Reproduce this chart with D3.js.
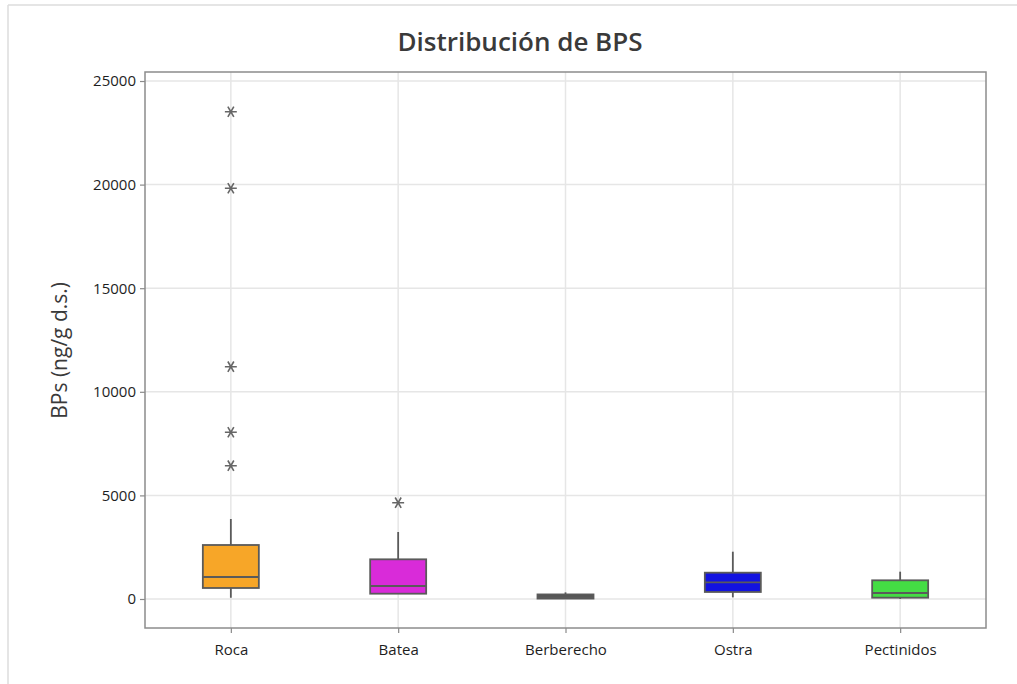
<!DOCTYPE html>
<html>
<head>
<meta charset="utf-8">
<script src="https://cdn.jsdelivr.net/npm/d3@7"></script>
<style>
  html, body { margin: 0; padding: 0; background: #fff; }
  svg { display: block; font-family: "Open Sans", "Noto Sans", sans-serif; }
</style>
</head>
<body>
<svg id="chart" width="1017" height="684"></svg>
<script>
// BPS concentration per sample type (ng/g d.s.)
const categories = ["Roca", "Batea", "Berberecho", "Ostra", "Pectinidos"];
const whiskerLow  = [60, 256, 0, 80, 0];
const q1Values    = [531, 256, 20, 338, 63];
const medians     = [1062, 627, 80, 806, 290];
const q3Values    = [2606, 1915, 220, 1270, 902];
const whiskerHigh = [3861, 3234, 320, 2283, 1318];
const outliers    = [
  [23518, 19822, 11212, 8045, 6434],
  [4648],
  [],
  [],
  []
];
const boxColors = ["#F7A628", "#D92BD9", "#555555", "#1212E0", "#44DD44"];
const yTicks = [0, 5000, 10000, 15000, 20000, 25000];

const svg = d3.select("#chart");
const width = 1017, height = 684;
const margin = { top: 72, right: 31, bottom: 56, left: 145 };
const plotW = width - margin.left - margin.right;
const plotH = height - margin.top - margin.bottom;

// outer panel border
svg.append("line").attr("x1", 8).attr("x2", width).attr("y1", 5).attr("y2", 5)
  .attr("stroke", "#dcdcdc").attr("stroke-width", 1.5);
svg.append("line").attr("x1", 8).attr("x2", 8).attr("y1", 5).attr("y2", height)
  .attr("stroke", "#dcdcdc").attr("stroke-width", 1.5);

const g = svg.append("g").attr("transform", `translate(${margin.left},${margin.top})`);

const x = d3.scalePoint().domain(categories).range([0, plotW]).padding(0.513);
const y = d3.scaleLinear().domain([-1400, 25435]).range([plotH, 0]);

// gridlines
g.append("g").selectAll("line.h").data(yTicks).join("line")
  .attr("x1", 0).attr("x2", plotW)
  .attr("y1", d => y(d)).attr("y2", d => y(d))
  .attr("stroke", "#e6e6e6").attr("stroke-width", 1.5);
g.append("g").selectAll("line.v").data(categories).join("line")
  .attr("x1", d => x(d)).attr("x2", d => x(d))
  .attr("y1", 0).attr("y2", plotH)
  .attr("stroke", "#e6e6e6").attr("stroke-width", 1.5);

// axes
const yAxis = g.append("g").call(d3.axisLeft(y).tickValues(yTicks).tickSize(5).tickPadding(4).tickFormat(d3.format("d")));
const xAxis = g.append("g").attr("transform", `translate(0,${plotH})`)
  .call(d3.axisBottom(x).tickSize(5).tickPadding(11));
[yAxis, xAxis].forEach(a => {
  a.select(".domain").remove();
  a.selectAll(".tick line").attr("stroke", "#8a8a8a").attr("stroke-width", 1.2);
  a.selectAll(".tick text").attr("fill", "#1e1e1e").style("font-size", "15px")
    .style("font-weight", "500")
    .style("font-family", "'Open Sans', 'Noto Sans', sans-serif");
});

// plot frame
g.append("rect").attr("x", 0).attr("y", 0).attr("width", plotW).attr("height", plotH)
  .attr("fill", "none").attr("stroke", "#8c8c8c").attr("stroke-width", 1.5);

// boxes
const boxW = 56;
const stroke = "#5a5a5a";
const data = categories.map((c, i) => ({
  c, lo: whiskerLow[i], q1: q1Values[i], med: medians[i], q3: q3Values[i],
  hi: whiskerHigh[i], out: outliers[i], color: boxColors[i]
}));

const boxes = g.append("g").selectAll("g").data(data).join("g")
  .attr("transform", d => `translate(${x(d.c)},0)`);

boxes.append("line").attr("x1", 0).attr("x2", 0)
  .attr("y1", d => y(d.q3)).attr("y2", d => y(d.hi))
  .attr("stroke", stroke).attr("stroke-width", 1.8);
boxes.append("line").attr("x1", 0).attr("x2", 0)
  .attr("y1", d => y(d.q1)).attr("y2", d => y(d.lo))
  .attr("stroke", stroke).attr("stroke-width", 1.8);
boxes.append("rect")
  .attr("x", -boxW / 2).attr("width", boxW)
  .attr("y", d => y(d.q3)).attr("height", d => Math.max(1, y(d.q1) - y(d.q3)))
  .attr("fill", d => d.color).attr("stroke", stroke).attr("stroke-width", 1.8);
boxes.append("line").attr("x1", -boxW / 2).attr("x2", boxW / 2)
  .attr("y1", d => y(d.med)).attr("y2", d => y(d.med))
  .attr("stroke", stroke).attr("stroke-width", 1.8);

// outliers drawn as asterisks with horizontal arms
const star = d3.symbol().type(d3.symbolAsterisk).size(100);
boxes.selectAll("path.out").data(d => d.out).join("path")
  .attr("class", "out")
  .attr("transform", v => `translate(0,${y(v)}) rotate(90)`)
  .attr("d", star)
  .attr("stroke", "#666").attr("stroke-width", 1.6).attr("fill", "none");

// title and axis label
svg.append("text").attr("x", 520).attr("y", 51).attr("text-anchor", "middle")
  .style("font-size", "26px").style("font-weight", "600").attr("fill", "#3a3a3a")
  .text("Distribución de BPS");
svg.append("text")
  .attr("transform", `translate(67,${margin.top + y(12000)}) rotate(-90)`)
  .attr("text-anchor", "middle")
  .style("font-size", "21px").style("font-weight", "500").attr("fill", "#3a3a3a")
  .text("BPs (ng/g d.s.)");
</script>
</body>
</html>
